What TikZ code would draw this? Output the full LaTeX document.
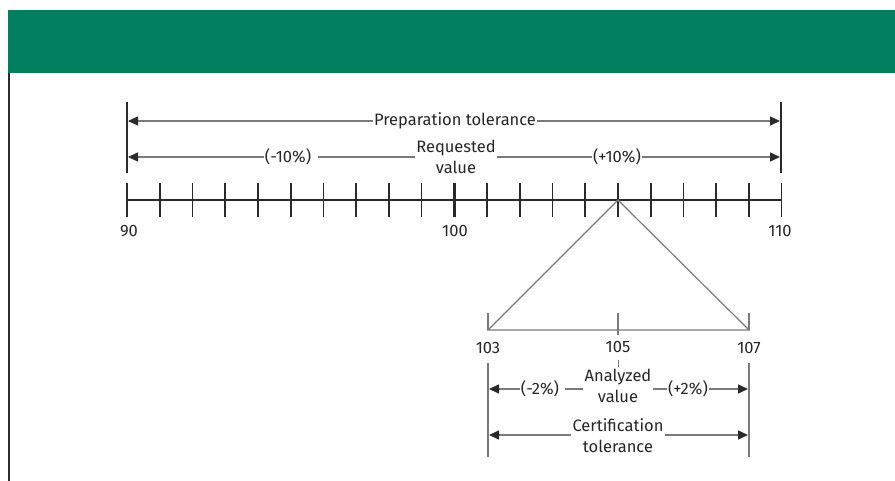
\documentclass[tikz,border=0pt]{standalone}
\usepackage{fontspec}
\setmainfont{Fira Sans}
\usetikzlibrary{arrows.meta}
\definecolor{band}{HTML}{007F5F}
\definecolor{dimc}{HTML}{7A7A7A}
\definecolor{axisc}{HTML}{2A2A2A}
\definecolor{txt}{HTML}{262626}
\begin{document}
\begin{tikzpicture}[x=1pt,y=-1pt,
  lab/.style={text=txt,font=\fontsize{16.5}{20.5}\selectfont,inner sep=1pt,align=center},
  dimline/.style={draw=dimc,line width=1.3pt},
  arrowline/.style={dimline,-{Triangle[length=10pt,width=9pt]},arrows={[color=axisc]}},
  bar/.style={draw=axisc,line width=1.8pt},
  tick/.style={draw=axisc,line width=1.7pt},
  thinbar/.style={draw=dimc,line width=1.2pt}]
\useasboundingbox (0,0) rectangle (895,481);
\fill[band] (8,10) rectangle (895,73);
\draw[line width=1.5pt,axisc] (8.8,73) -- (8.8,481);
% axis
\foreach \i in {0,...,20} \coordinate (t\i) at ({127+\i*32.73},200);
\draw[tick,line width=1.4pt] (t0) -- (t20);
\foreach \i in {0,...,20} \draw[tick] (t\i) ++(0,-17) -- ++(0,34);
\draw[tick,line width=2.8pt] (t10) ++(0,-17) -- ++(0,34);
\node[lab] (l90) at (129,231) {90};
\node[lab] (l100) at (455,231) {100};
\node[lab] (l110) at (780,231) {110};
% preparation tolerance
\draw[bar] (127,102) coordinate (pl0) -- (127,173) coordinate (pl1);
\draw[bar] (781,102) coordinate (pr0) -- (781,173) coordinate (pr1);
\coordinate (pa) at (128,121);
\coordinate (pb) at (780,121);
\node[lab] (prep) at (455,121) {Preparation tolerance};
\draw[arrowline] (prep.west) -- (pa);
\draw[arrowline] (prep.east) -- (pb);
% requested value
\coordinate (ra) at (128,157);
\coordinate (rb) at (780,157);
\node[lab] (req) at (456,157) {Requested\\value};
\node[lab] (m10) at (288,157) {(-10\%)};
\node[lab] (p10) at (617,157) {(+10\%)};
\draw[arrowline] (m10.west) -- (ra);
\draw[dimline] (m10.east) ++(6,0) -- (req.west);
\draw[dimline] (req.east) -- (p10.west);
\draw[arrowline] (p10.east) -- (rb);
% triangle
\coordinate (b103) at (488,330);
\coordinate (b105) at (618,330);
\coordinate (b107) at (749,330);
\draw[thinbar] (b103) -- (t15) -- (b107) -- cycle;
\draw[thinbar] (b103) ++(0,-17) -- (b103);
\draw[thinbar] (b107) ++(0,-17) -- (b107);
\draw[thinbar] (b105) ++(0,-17) -- ++(0,22);
\node[lab] (l103) at (488,348) {103};
\node[lab] (l105) at (618,347) {105};
\node[lab] (l107) at (749,348) {107};
% certification
\draw[thinbar] (488,363) coordinate (cl0) -- (488,457) coordinate (cl1);
\draw[thinbar] (749,363) coordinate (cr0) -- (749,457) coordinate (cr1);
\draw[dimline,line width=0.8pt] (618,360) coordinate (s0) -- (618,367) coordinate (s1);
\coordinate (aa) at (489,389);
\coordinate (ab) at (748,389);
\node[lab] (m2) at (540,389) {(-2\%)};
\node[lab] (av) at (618,386) {Analyzed\\value};
\node[lab] (p2) at (688,389) {(+2\%)};
\draw[arrowline] (m2.west) -- (aa);
\draw[dimline] (m2.east) ++(5,0) -- (av.west |- m2.east);
\draw[dimline] (av.east |- p2.west) -- (p2.west);
\draw[arrowline] (p2.east) -- (ab);
\coordinate (ca) at (489,435);
\coordinate (cb) at (748,435);
\node[lab] (cert) at (618,435.5) {Certification\\tolerance};
\draw[arrowline] (cert.west |- ca) -- (ca);
\draw[arrowline] (cert.east |- cb) -- (cb);
\end{tikzpicture}
\end{document}
